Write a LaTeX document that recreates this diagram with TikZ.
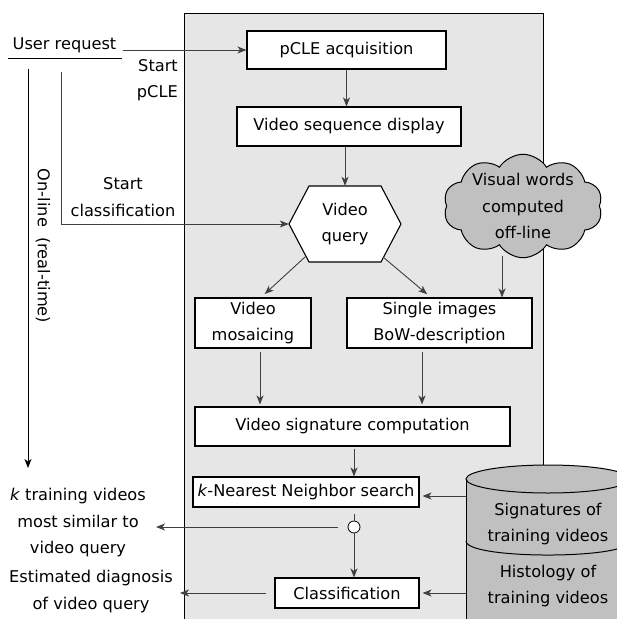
\documentclass[tikz,border=0pt]{standalone}
\usepackage{fontspec}
\setmainfont{DejaVu Sans}
\usetikzlibrary{arrows.meta,shapes.symbols,calc}
\definecolor{panelgray}{HTML}{E6E6E6}
\definecolor{darkgray}{HTML}{C0C0C0}
\definecolor{conngray}{HTML}{404040}
\begin{document}
\begin{tikzpicture}[x=1pt,y=-1pt,
  every node/.style={font=\fontsize{16.2}{26.5}\selectfont, align=center},
  box/.style={draw=black, line width=1.1pt, fill=white, inner sep=1pt},
  conn/.style={draw=conngray, line width=0.9pt, -{Stealth[length=9pt,width=7pt,inset=2.5pt]}},
  plain/.style={draw=conngray, line width=0.9pt},
  lbl/.style={inner sep=0pt}]
\clip (0,0) rectangle (617,619);
% panel
\path[fill=panelgray, draw=black, line width=1pt] (184,13) rectangle (543,640);
% cylinder
\fill[darkgray] (466,479) rectangle (630,640);
\draw[line width=1pt] (466,479) -- (466,640) (630,479) -- (630,640);
\filldraw[fill=darkgray, line width=1pt] (548,479) ellipse [x radius=82, y radius=14];
\draw[line width=1pt] (466,541) .. controls (466,559.7) and (630,559.7) .. (630,541);
\node[lbl] (sig) at (548,524) {Signatures of\\training videos};
\node[lbl] (hist) at (548,586) {Histology of\\training videos};
% boxes
\node[box, minimum width=199, minimum height=38] (pcle) at (346.5,50) {pCLE acquisition};
\node[box, minimum width=224, minimum height=39] (vsd) at (349,126.5) {Video sequence display};
\coordinate (vqc) at (345,224);
\filldraw[fill=white, line width=1.1pt] ($(vqc)+(-56,0)$) -- ($(vqc)+(-36,-38)$) -- ($(vqc)+(36,-38)$) -- ($(vqc)+(56,0)$) -- ($(vqc)+(36,38)$) -- ($(vqc)+(-36,38)$) -- cycle;
\node[minimum width=112, minimum height=76, inner sep=0pt] (vq) at (vqc) {Video\\query};
\node[cloud, draw=black, line width=1pt, fill=darkgray, cloud puffs=10, cloud puff arc=115, aspect=1.6, inner sep=-3pt, minimum width=159pt, minimum height=100pt] (cloud) at (523,206) {Visual words\\computed\\off-line};
\node[box, minimum width=116, minimum height=50] (vm) at (253,323) {Video\\mosaicing};
\node[box, minimum width=185, minimum height=50] (sib) at (439.5,323) {Single images\\BoW-description};
\node[box, minimum width=315, minimum height=39] (vsc) at (352.5,426.5) {Video signature computation};
\node[box, minimum width=226, minimum height=30] (knn) at (306,492) {\textit{k}-Nearest Neighbor search};
\node[circle, draw=black, line width=0.8pt, fill=white, minimum size=12pt, inner sep=0pt] (circ) at (354,527) {};
\node[box, minimum width=144, minimum height=30] (cls) at (347,593) {Classification};
% left texts
\node[lbl] (ur) at (64.5,45) {User request};
\coordinate (ul0) at (8,58);
\coordinate (ul1) at (122,58);
\draw[line width=1pt] (ul0) -- (ul1);
\node[lbl, anchor=east, align=right] (sp) at (178,80) {Start\\pCLE};
\node[lbl] (sc) at (123,197) {Start\\classification};
\node[lbl, rotate=-90] (ol) at (43,246) {On-line\ \ (real-time)};
\node[lbl] (kt) at (78,523) {\textit{k} training videos\\most similar to\\video query};
\node[lbl] (ed) at (91,591.5) {Estimated diagnosis\\of video query};
% connectors
\draw[conn, shorten <=6pt] (ur.east |- pcle.west) -- (pcle.west);
\coordinate (sc0) at (61,72);
\draw[conn] (sc0) |- (vq.west);
\coordinate (ol0) at (28,69);
\coordinate (ol1) at (28,468);
\draw[conn, draw=black] (ol0) -- (ol1);
\draw[conn] (pcle.south) -- (pcle.south |- vsd.north);
\draw[conn] (vsd.south -| vq.north) -- (vq.north);
\coordinate (h1) at (305,257);
\coordinate (h2) at (383,257);
\draw[conn, shorten >=5pt] (h1) -- ($(vm.north)+(8,0)$);
\draw[conn, shorten >=5pt] (h2) -- ($(sib.north)+(-8.5,0)$);
\coordinate (cl1) at (502,256);
\draw[conn] (cl1) -- (cl1 |- sib.north);
\coordinate (m1) at (260,352);
\coordinate (m2) at (422,352);
\draw[conn, shorten >=2pt] (m1) -- (m1 |- vsc.north);
\draw[conn, shorten >=2pt] (m2) -- (m2 |- vsc.north);
\draw[conn, shorten <=2pt] (vsc.south -| circ.north) -- (circ.north |- knn.north);
\draw[plain, shorten >=6pt] (circ.north) -- (circ.north |- knn.south);
\draw[conn] (circ.south) -- (circ.south |- cls.north);
\draw[conn, shorten <=10pt, shorten >=10pt] (circ.west) -- (circ.west -| kt.east);
\draw[conn, shorten <=8pt, shorten >=7pt] (cls.west) -- (cls.west -| ed.east);
\coordinate (cy1) at (466,496);
\coordinate (cy2) at (466,593);
\draw[conn, shorten >=3pt] (cy1) -- (cy1 -| knn.east);
\draw[conn, shorten >=3pt] (cy2) -- (cy2 -| cls.east);
\end{tikzpicture}
\end{document}
